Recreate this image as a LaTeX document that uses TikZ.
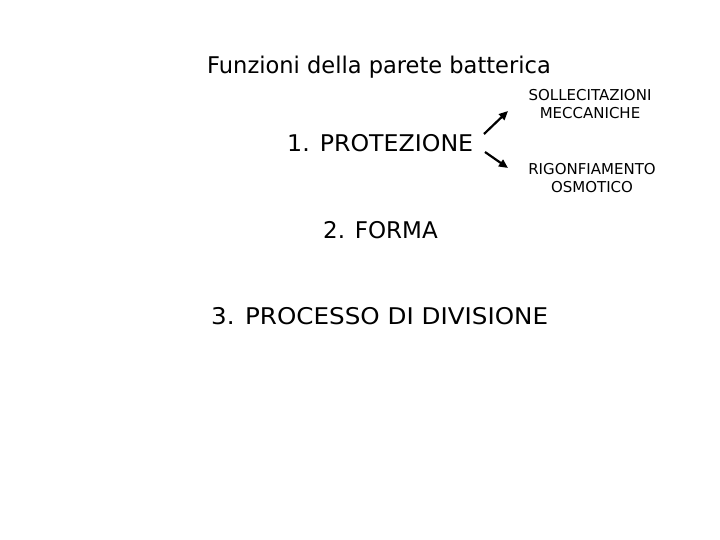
\documentclass[tikz,border=0pt]{standalone}
\usepackage{fontspec}
\setmainfont{DejaVu Sans}
\usetikzlibrary{arrows.meta}
\begin{document}
\begin{tikzpicture}[x=1pt,y=-1pt,
  txt/.style={inner sep=0pt, text=black},
  big/.style={txt, font=\fontsize{23}{27}\selectfont},
  small/.style={txt, font=\fontsize{15}{17.5}\selectfont, align=center},
  arr/.style={-{Triangle[length=9pt,width=8pt]}, line width=2.2pt}]
\useasboundingbox[fill=white] (0,0) rectangle (720,540);
\node[big, anchor=west] (title) at (207,67) {\scalebox{0.98}[1]{Funzioni della parete batterica}};
\node[big, anchor=west] (p1) at (287,143.5) {\scalebox{1.03}[1]{1. PROTEZIONE}};
\node[small] (s1) at (590,104) {SOLLECITAZIONI\\MECCANICHE};
\node[small] (s2) at (592,178) {RIGONFIAMENTO\\OSMOTICO};
\node[big, anchor=west] (p2) at (323,230) {2. FORMA};
\node[big, anchor=west] (p3) at (211,316) {\scalebox{1.07}[1]{3. PROCESSO DI DIVISIONE}};
\coordinate (a1) at (484,134);
\coordinate (b1) at (508,111);
\coordinate (a2) at (485,152);
\coordinate (b2) at (508,168);
\draw[arr] (a1) -- (b1);
\draw[arr] (a2) -- (b2);
\end{tikzpicture}
\end{document}
